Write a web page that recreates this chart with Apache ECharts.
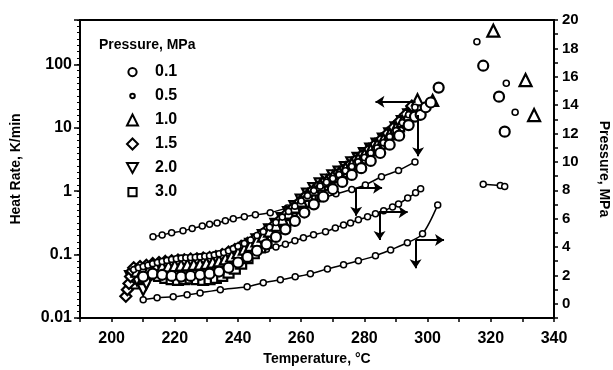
<!DOCTYPE html>
<html>
<head>
<meta charset="utf-8">
<script src="https://cdn.jsdelivr.net/npm/echarts@6/dist/echarts.min.js"></script>
<style>
  html, body { margin: 0; padding: 0; background: #fff; }
  #chart { width: 613px; height: 370px; }
</style>
</head>
<body>
<div id="chart"></div>
<script>
// heat rate (K/min) vs temperature (°C), one array per pressure (MPa)
const hr01 = [[210,0.045],[213,0.05],[216,0.048],[219,0.046],[222,0.045],[225,0.046],[228,0.048],[231,0.05],[234,0.054],[237,0.062],[240,0.075],[243,0.092],[246,0.115],[249,0.145],[252,0.19],[255,0.25],[258,0.34],[261,0.46],[264,0.62],[267,0.82],[270,1.08],[273,1.4],[276,1.8],[279,2.3],[282,3.0],[285,4.0],[288,5.4],[291,7.5],[294,11],[296,15],[297.8,16],[299.4,21],[301,25],[303.5,43]];
const hr05 = [[207,0.058],[208.5,0.062],[210,0.065],[211.5,0.068],[213,0.072],[214.5,0.075],[216,0.078],[217.5,0.081],[219,0.084],[220.5,0.086],[222,0.088],[223.5,0.089],[225,0.09],[226.5,0.091],[228,0.092],[229.5,0.094],[231,0.096],[232.5,0.099],[234,0.103],[235.5,0.108],[237,0.115],[238.5,0.124],[240,0.135],[242,0.15],[244,0.17],[246,0.2],[248,0.23],[250,0.27],[252,0.32],[254,0.39],[256,0.48],[258,0.58],[260,0.7],[262,0.85],[264,1.02],[266,1.2],[268,1.38],[270,1.58],[272,1.82],[274,2.1],[276,2.45],[278,2.9],[280,3.4],[282,4.0],[284,4.8],[286,5.8],[288,7.2],[290,9.0],[292,12],[294,16],[296,21]];
const hr10 = [[208,0.055],[210,0.058],[212,0.06],[214,0.062],[216,0.064],[218,0.066],[220,0.067],[222,0.068],[224,0.069],[226,0.07],[228,0.071],[230,0.073],[232,0.076],[234,0.08],[236,0.086],[238,0.095],[240,0.107],[242,0.122],[244,0.14],[246,0.165],[248,0.195],[250,0.235],[252,0.29],[254,0.36],[256,0.45],[258,0.56],[260,0.7],[262,0.87],[264,1.05],[266,1.25],[268,1.45],[270,1.7],[272,1.95],[274,2.3],[276,2.7],[278,3.2],[280,3.8],[282,4.5],[284,5.4],[286,6.5],[288,8.0],[290,10],[292,12.5],[294,16],[296.8,27.6],[301.6,27]];
const hr15 = [[204.5,0.022],[205,0.028],[205.5,0.035],[206,0.045],[206.5,0.055],[207,0.062],[209,0.065],[211,0.068],[213,0.072],[215,0.075],[217,0.078],[219,0.08],[221,0.082],[223,0.083],[225,0.085],[227,0.086],[229,0.088],[231,0.09],[233,0.093],[235,0.1],[237,0.11],[239,0.12],[241,0.135],[243,0.15],[245,0.17],[247,0.2],[249,0.24],[251,0.28],[253,0.34],[255,0.42],[257,0.52],[259,0.64],[261,0.8],[263,0.97],[265,1.15],[267,1.35],[269,1.55],[271,1.8],[273,2.1],[275,2.5],[277,3.0],[279,3.6],[281,4.3],[283,5.2],[285,6.3],[287,7.8],[289,9.8],[291,12.5],[293,16],[295,22]];
const hr20 = [[206,0.045],[208,0.04],[210,0.028],[211,0.035],[212,0.05],[214,0.055],[216,0.058],[218,0.062],[220,0.065],[222,0.066],[224,0.068],[226,0.07],[228,0.071],[230,0.073],[232,0.076],[234,0.08],[236,0.087],[238,0.097],[240,0.11],[242,0.125],[244,0.145],[246,0.17],[248,0.2],[250,0.245],[252,0.3],[254,0.37],[256,0.46],[258,0.57],[260,0.72],[262,0.9],[264,1.1],[266,1.3],[268,1.5],[270,1.75],[272,2.0],[274,2.35],[276,2.8],[278,3.3],[280,3.9],[282,4.6],[284,5.5],[286,6.6],[288,8.0],[290,10],[292,12.5],[294,16]];
const hr30 = [[207,0.035],[208,0.042],[209,0.045],[211,0.048],[213,0.05],[215,0.046],[217,0.043],[219,0.041],[221,0.04],[223,0.041],[225,0.042],[227,0.041],[229,0.04],[231,0.041],[233,0.043],[235,0.046],[237,0.052],[239,0.06],[241,0.072],[243,0.088],[245,0.105],[247,0.13],[249,0.16],[251,0.2],[253,0.26],[255,0.33],[257,0.42],[259,0.54],[261,0.68],[263,0.85],[265,1.05],[267,1.25],[269,1.45],[271,1.7],[273,2.0],[275,2.35],[277,2.8],[279,3.3],[281,3.9],[283,4.7],[285,5.6],[287,6.8],[289,8.4],[291,10.5],[293,13.5],[295,18]];

// pressure (MPa) vs temperature, right axis
const pressA = [[213.1,4.72],[216,4.85],[219,5.0],[222.6,5.14],[225.5,5.3],[228.7,5.49],[231,5.6],[233.4,5.7],[236,5.85],[238.5,5.99],[242,6.13],[245.5,6.27],[250.2,6.41],[255.6,6.76],[261.3,7.11],[266,7.4],[271,7.75],[276,8.05],[280.3,8.38],[285.4,8.95],[290.8,9.4],[296,10.0]];
const pressB = [[243,3.55],[246,3.7],[249,3.85],[252,4.0],[255,4.2],[258,4.45],[260.7,4.65],[263.9,4.86],[267.7,5.07],[270.8,5.35],[273.4,5.56],[275.6,5.7],[278.1,5.92],[281,6.13],[283.5,6.34],[286.1,6.55],[288.9,6.83],[290.8,7.04],[293.7,7.46],[296.2,7.82],[297.8,8.1]];
const pressC = [[210,0.28],[214.4,0.42],[219.5,0.49],[223.9,0.63],[228,0.77],[234.4,0.99],[242.9,1.2],[248,1.48],[253.4,1.69],[258.1,1.9],[262.9,2.11],[268.3,2.46],[273.4,2.75],[278.1,3.03],[283.5,3.38],[288.3,3.8],[293.6,4.3],[298.4,4.93],[303.2,6.97]];
const pressD = [[317.6,8.43],[323,8.33],[324.4,8.26]];

// isolated points at the right, right axis
const pk01 = [[317.6,16.78],[322.6,14.6],[324.4,12.13]];
const pk05 = [[315.6,18.47],[324.9,15.54],[327.7,13.5]];
const pk10 = [[320.8,19.25],[331,15.77],[333.7,13.3]];

// arrows: [from, to]
const arrowsLeft = [[[296.2,25.7],[283.5,25.7]]];
const arrowsRight = [
  [[297,13.3],[297,10.4]],
  [[277.6,8.17],[285.6,8.17]],
  [[277.4,8.17],[277.4,6.2]],
  [[284.6,6.46],[293.7,6.46]],
  [[284.8,6.46],[284.8,4.5]],
  [[296.2,4.5],[305.2,4.5]],
  [[296.2,4.5],[296.2,2.5]]
];

const pressures = ['0.1','0.5','1.0','1.5','2.0','3.0'];

const FONT = '"Liberation Sans", Arial, sans-serif';
const open = (w) => ({ color: '#fff', borderColor: '#000', borderWidth: w, opacity: 1 });

function marker(name, data, symbol, size, yAxisIndex, rotate) {
  return {
    name, type: 'scatter', data, symbol, symbolSize: size,
    symbolRotate: rotate || 0, yAxisIndex,
    itemStyle: open(size < 7 ? 1.6 : 2.2),
    emphasis: { disabled: true },
    silent: true, z: 3,
  };
}

function curve(data, smooth) {
  return {
    type: 'line', data, yAxisIndex: 1, smooth: smooth || 0,
    symbol: 'circle', symbolSize: 6, showSymbol: true,
    lineStyle: { color: '#000', width: 1.5 },
    itemStyle: open(1.5), silent: true, z: 2,
  };
}

function arrows(list, yAxisIndex) {
  return {
    type: 'lines', coordinateSystem: 'cartesian2d', yAxisIndex,
    data: list.map((c) => ({ coords: c })),
    symbol: ['none', 'arrow'], symbolSize: [0, 9],
    lineStyle: { color: '#000', width: 2, opacity: 1 },
    silent: true, z: 4,
  };
}

// legend icons: small circle kept small by padding the path's box, inverted triangle
const legendData = [
  { name: '0.1', icon: 'path://M0,0M12,12M1.5,6A4.5,4.5,0,1,0,10.5,6A4.5,4.5,0,1,0,1.5,6Z' },
  { name: '0.5', icon: 'path://M0,0M12,12M3.5,6A2.5,2.5,0,1,0,8.5,6A2.5,2.5,0,1,0,3.5,6Z' },
  { name: '1.0', icon: 'triangle' },
  { name: '1.5', icon: 'diamond' },
  { name: '2.0', icon: 'path://M0,0L10,0L5,9Z' },
  { name: '3.0', icon: 'path://M0,0M12,12M1.5,1.5L10.5,1.5L10.5,10.5L1.5,10.5Z' },
];

const chart = echarts.init(document.getElementById('chart'), null, { renderer: 'canvas' });

chart.setOption({
  animation: false,
  backgroundColor: '#fff',
  textStyle: { fontFamily: FONT },
  title: {
    text: 'Pressure, MPa', left: 94, top: 33,
    textStyle: { fontFamily: FONT, fontSize: 14, fontWeight: 'bold', color: '#000' },
  },
  legend: {
    data: legendData, orient: 'vertical', left: 121, top: 58,
    itemWidth: 11, itemHeight: 11, itemGap: 6,
    selectedMode: false,
    itemStyle: { color: '#fff', borderColor: '#000', borderWidth: 2 },
    textStyle: { fontFamily: FONT, fontSize: 16, fontWeight: 'bold', color: '#000', lineHeight: 18, padding: [0, 0, 0, 12] },
  },
  grid: {
    left: 80, right: 59, top: 20, bottom: 52,
    outerBoundsMode: 'none', containLabel: false,
    show: true, borderColor: '#000', borderWidth: 2,
  },
  xAxis: {
    type: 'value', min: 190, max: 340, interval: 10,
    name: 'Temperature, °C', nameLocation: 'middle', nameGap: 31,
    nameTextStyle: { fontFamily: FONT, fontSize: 14, fontWeight: 'bold', color: '#000' },
    axisLine: { onZero: false, lineStyle: { color: '#000', width: 2 } },
    axisTick: { inside: false, length: 4, lineStyle: { color: '#000', width: 1.5 } },
    axisLabel: {
      margin: 13, color: '#000', fontSize: 16, fontWeight: 'bold', fontFamily: FONT,
      formatter: (v) => (v % 20 === 0 ? String(v) : ''),
    },
    splitLine: { show: false },
  },
  yAxis: [
    {
      type: 'log', logBase: 10, min: 0.01, max: 500, position: 'left',
      name: 'Heat Rate, K/min', nameLocation: 'middle', nameGap: 57,
      nameTextStyle: { fontFamily: FONT, fontSize: 14, fontWeight: 'bold', color: '#000' },
      axisLine: { show: true, onZero: false, lineStyle: { color: '#000', width: 2 } },
      axisTick: { inside: false, length: 6, lineStyle: { color: '#000', width: 1.5 } },
      axisLabel: {
        margin: 8, color: '#000', fontSize: 16, fontWeight: 'bold', fontFamily: FONT,
        formatter: (v) => {
          const e = Math.log10(v);
          return Math.abs(e - Math.round(e)) < 1e-6 ? String(+v.toPrecision(3)) : '';
        },
      },
      splitLine: { show: false },
    },
    {
      type: 'value', min: -1, max: 20, interval: 1, position: 'right',
      name: 'Pressure, MPa', nameLocation: 'middle', nameGap: 43, nameRotate: -90,
      nameTextStyle: { fontFamily: FONT, fontSize: 14, fontWeight: 'bold', color: '#000' },
      axisLine: { show: true, onZero: false, lineStyle: { color: '#000', width: 2 } },
      axisTick: { inside: false, length: 4, lineStyle: { color: '#000', width: 1.5 } },
      axisLabel: {
        margin: 8, color: '#000', fontSize: 15, fontWeight: 'bold', fontFamily: FONT,
        formatter: (v) => (v >= 0 && v % 2 === 0 ? String(v) : ''),
      },
      splitLine: { show: false },
    },
    {
      // minor ticks of the log axis, in decades
      type: 'value', min: -2, max: 2.7, interval: 0.1, position: 'left',
      axisLine: { show: false, onZero: false },
      axisTick: { show: true, inside: false, length: 3, lineStyle: { color: '#000', width: 1 } },
      axisLabel: { show: false },
      splitLine: { show: false },
    },
  ],
  series: [
    curve(pressA, 0.2),
    curve(pressB, 0.2),
    curve(pressC, 0.3),
    curve(pressD, 0),
    marker('3.0', hr30, 'rect', 10, 0),
    marker('2.0', hr20, 'triangle', 11, 0, 180),
    marker('1.5', hr15, 'diamond', 11, 0),
    marker('1.0', hr10, 'triangle', 11, 0),
    marker('0.5', hr05, 'circle', 6, 0),
    marker('0.1', hr01, 'circle', 10, 0),
    marker('0.1', pk01, 'circle', 10, 1),
    marker('0.5', pk05, 'circle', 6, 1),
    marker('1.0', pk10, 'triangle', 12, 1),
    arrows(arrowsLeft, 0),
    arrows(arrowsRight, 1),
  ],
});
</script>
</body>
</html>
